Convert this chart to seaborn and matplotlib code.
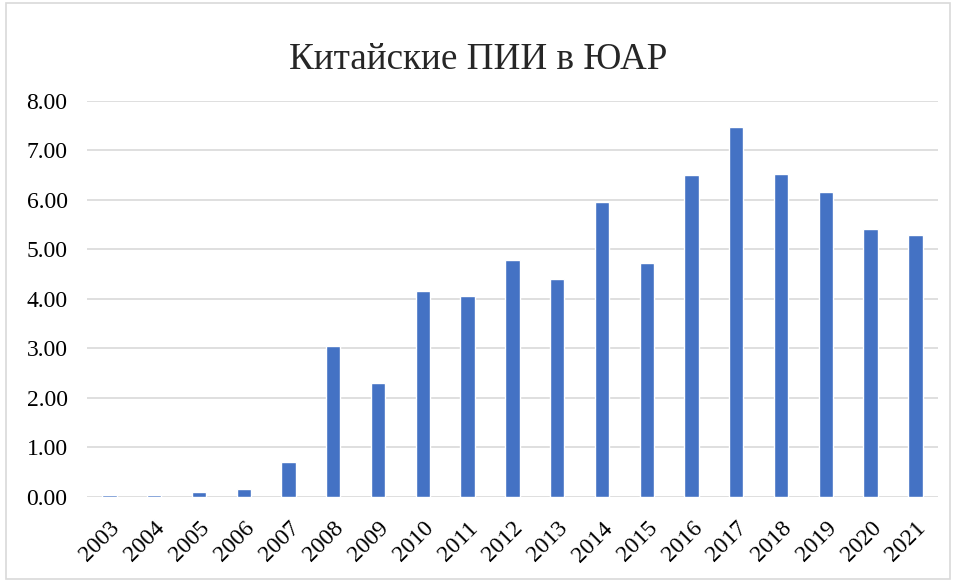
import matplotlib
matplotlib.use("Agg")
import matplotlib.pyplot as plt
import seaborn as sns
import pandas as pd
from matplotlib.patches import Rectangle

years = ["2003", "2004", "2005", "2006", "2007", "2008", "2009", "2010", "2011", "2012",
         "2013", "2014", "2015", "2016", "2017", "2018", "2019", "2020", "2021"]
values = [0.04, 0.05, 0.11, 0.17, 0.70, 3.04, 2.30, 4.16, 4.06, 4.78,
          4.40, 5.96, 4.73, 6.51, 7.48, 6.53, 6.16, 5.42, 5.29]
title = "Китайские ПИИ в ЮАР"

sns.set_theme(style="white")
plt.rcParams['font.family'] = ['Liberation Serif', 'DejaVu Serif']

df = pd.DataFrame({"year": years, "value": values})

fig = plt.figure(figsize=(9.56, 5.81), dpi=100)
ax = fig.add_axes([0.091, 0.1446, 0.890, 0.682])
sns.barplot(data=df, x="year", y="value", color="#4472C4", width=0.32,
            saturation=1, ax=ax, zorder=3)

ax.set_ylim(0, 8)
ax.set_yticks([i for i in range(9)])
ax.set_yticklabels([f"{i:.2f}" for i in range(9)], fontsize=17)
ax.set_xlabel("")
ax.set_ylabel("")
ax.set_axisbelow(True)
ax.grid(axis="y", color="#d9d9d9", linewidth=1.2, zorder=0)
for s in ["top", "right", "left", "bottom"]:
    ax.spines[s].set_visible(False)
ax.tick_params(axis="y", length=0, pad=14, colors="black")
ax.tick_params(axis="x", length=0, pad=15, colors="black")
plt.setp(ax.get_xticklabels(), rotation=45, ha="right", rotation_mode="anchor", fontsize=17)
ax.set_xlim(-0.5, len(years) - 0.5)

fig.text(0.5, 0.898, title, ha="center", va="center", fontsize=26.7)
fig.patches.append(Rectangle((0.006, 0.004), 0.988, 0.99, transform=fig.transFigure,
                             fill=False, edgecolor="#d9d9d9", linewidth=1.2))

fig.savefig("out.png", dpi=100)
